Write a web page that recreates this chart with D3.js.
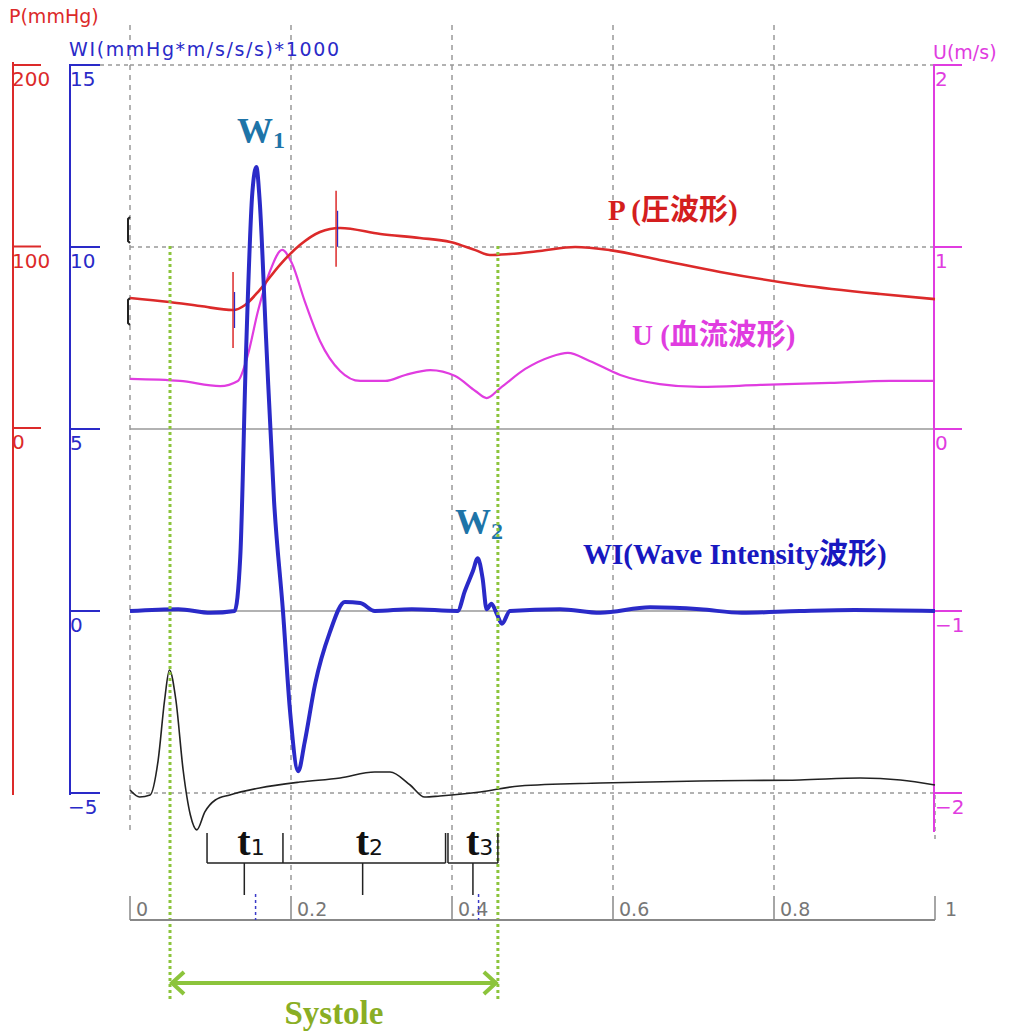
<!DOCTYPE html>
<html>
<head>
<meta charset="utf-8">
<script src="https://cdn.jsdelivr.net/npm/d3@7"></script>
<style>
  body { margin: 0; background: #fff; }
  svg { display: block; }
  .axlab { font-family: "DejaVu Sans", "Noto Sans CJK JP", sans-serif; }
  .serif { font-family: "Liberation Serif", "Noto Sans CJK JP", serif; font-weight: bold; }
</style>
</head>
<body>
<svg id="chart" width="1016" height="1036"></svg>
<script>
// time in s, values in their own units
var wiData = [[0,0],[0.06,0.05],[0.1,-0.05],[0.130,0],[0.137,1.5],[0.144,7],[0.152,11.5],[0.157,12.2],[0.161,11.3],
  [0.169,7.5],[0.179,3],[0.190,0],[0.199,-2.8],[0.209,-4.4],[0.217,-3.6],[0.230,-2],[0.248,-0.6],
  [0.267,0.25],[0.286,0.22],[0.304,0],[0.35,0.05],[0.407,0],[0.416,0.55],[0.426,1.1],[0.432,1.45],
  [0.438,0.9],[0.443,0.05],[0.449,0.2],[0.456,-0.1],[0.462,-0.35],[0.472,0],[0.534,0.05],
  [0.584,-0.05],[0.646,0.1],[0.708,0.05],[0.76,-0.05],[0.832,0],[0.9,0.03],[1,0]];

var pData = [[0,71.6],[0.049,69.4],[0.087,67.2],[0.128,65],[0.143,67.8],[0.161,76],[0.186,89.8],
  [0.211,100.8],[0.236,108],[0.261,110.2],[0.311,106.9],[0.360,104.7],[0.398,102.5],[0.429,98],
  [0.447,95.3],[0.472,95.9],[0.509,97.5],[0.553,99.7],[0.596,98],[0.658,92.6],[0.733,86],
  [0.832,78.8],[0.932,73.8],[1,71]];

var uData = [[0,0.275],[0.062,0.264],[0.112,0.236],[0.134,0.264],[0.146,0.40],[0.159,0.648],
  [0.174,0.868],[0.189,0.984],[0.201,0.912],[0.217,0.703],[0.236,0.484],[0.261,0.319],
  [0.286,0.264],[0.317,0.264],[0.342,0.297],[0.373,0.324],[0.404,0.291],[0.429,0.209],
  [0.443,0.170],[0.460,0.225],[0.491,0.330],[0.522,0.396],[0.544,0.418],[0.571,0.374],
  [0.609,0.297],[0.658,0.247],[0.708,0.231],[0.783,0.242],[0.870,0.253],[0.944,0.264],[1,0.264]];

// ECG in arbitrary units
var ecgData = [[0,0.024],[0.012,-0.033],[0.025,-0.016],[0.035,0.268],[0.043,0.756],[0.049,1.0],
  [0.057,0.756],[0.066,0.187],[0.075,-0.179],[0.083,-0.30],[0.093,-0.154],[0.106,-0.057],
  [0.124,-0.016],[0.161,0.041],[0.211,0.089],[0.261,0.122],[0.304,0.171],[0.323,0.171],
  [0.348,0.065],[0.366,-0.033],[0.385,-0.024],[0.435,0.008],[0.484,0.057],[0.584,0.081],
  [0.708,0.098],[0.832,0.106],[0.907,0.122],[0.957,0.106],[1,0.065]];

var pTicks = [200, 100, 0];
var wiTicks = [15, 10, 5, 0, -5];
var uTicks = [2, 1, 0, -1, -2];
var timeTicks = [0, 0.2, 0.4, 0.6, 0.8, 1];
var gridRows = [{u: 2, dash: true}, {u: 1, dash: true}, {u: 0, dash: false}, {u: -1, dash: false}, {u: -2, dash: true}];

var pMarks = [0.128, 0.256];      // red markers on P
var peakMarks = [0.156, 0.433];   // W1, W2 peak times
var systole = [0.0497, 0.457];
var bracketEdges = [0.0957, 0.190, 0.392, 0.395, 0.457];
var tLabels = [{t: 0.142, n: "1"}, {t: 0.289, n: "2"}, {t: 0.426, n: "3"}];

var svg = d3.select("#chart");

var x = d3.scaleLinear().domain([0, 1]).range([130, 935]);
var yWI = d3.scaleLinear().domain([-5, 15]).range([793, 65]);
var yP = d3.scaleLinear().domain([0, 200]).range([428, 65]);
var yU = d3.scaleLinear().domain([-2, 2]).range([793, 65]);
var yE = d3.scaleLinear().domain([0, 1]).range([793, 670]);

var red = "#dc2a2a", blue = "#2a2ac8", mag = "#e03ce0", green = "#8cc43c";

// grid
svg.selectAll(".hgrid").data(gridRows).enter().append("line")
  .attr("x1", 130).attr("x2", 935)
  .attr("y1", function(d) { return yU(d.u); }).attr("y2", function(d) { return yU(d.u); })
  .attr("stroke", "#999").attr("stroke-width", 1.5)
  .attr("stroke-dasharray", function(d) { return d.dash ? "4,4" : null; });
svg.append("line").attr("x1", 100).attr("x2", 130).attr("y1", yU(2)).attr("y2", yU(2))
  .attr("stroke", "#999").attr("stroke-width", 1.5).attr("stroke-dasharray", "4,4");

svg.selectAll(".vgrid").data(timeTicks.slice(0, 5)).enter().append("line")
  .attr("x1", function(d) { return x(d); }).attr("x2", function(d) { return x(d); })
  .attr("y1", 25).attr("y2", function(d) { return d == 0 ? 835 : 893; })
  .attr("stroke", "#999").attr("stroke-width", 1.5).attr("stroke-dasharray", "5,5");
svg.append("line").attr("x1", x(1)).attr("x2", x(1)).attr("y1", 795).attr("y2", 840)
  .attr("stroke", "#999").attr("stroke-width", 1.5).attr("stroke-dasharray", "4,4");

// left red axis
svg.append("line").attr("x1", 13).attr("x2", 13).attr("y1", 62).attr("y2", 795)
  .attr("stroke", red).attr("stroke-width", 2);
svg.selectAll(".pt").data(pTicks).enter().append("line")
  .attr("x1", 13).attr("x2", 41).attr("y1", function(d) { return yP(d); }).attr("y2", function(d) { return yP(d); })
  .attr("stroke", red).attr("stroke-width", 2);
svg.selectAll(".ptl").data(pTicks).enter().append("text").attr("class", "axlab")
  .attr("x", 12).attr("y", function(d) { return yP(d) + 21; })
  .attr("fill", red).attr("font-size", 20).text(function(d) { return d; });
svg.append("text").attr("class", "axlab").attr("x", 9).attr("y", 23)
  .attr("fill", red).attr("font-size", 19).text("P(mmHg)");

// blue WI axis
svg.append("line").attr("x1", 70).attr("x2", 70).attr("y1", 64).attr("y2", 795)
  .attr("stroke", blue).attr("stroke-width", 2);
svg.selectAll(".wt").data(wiTicks).enter().append("line")
  .attr("x1", 70).attr("x2", 100).attr("y1", function(d) { return yWI(d); }).attr("y2", function(d) { return yWI(d); })
  .attr("stroke", blue).attr("stroke-width", 2);
svg.selectAll(".wtl").data(wiTicks).enter().append("text").attr("class", "axlab")
  .attr("x", function(d) { return d < 0 ? 68 : 70; }).attr("y", function(d) { return yWI(d) + 21; })
  .attr("fill", blue).attr("font-size", 20).text(function(d) { return d < 0 ? "\u2212" + (-d) : d; });
svg.append("text").attr("class", "axlab").attr("x", 69).attr("y", 56)
  .attr("fill", blue).attr("font-size", 19).attr("textLength", 270).text("WI(mmHg*m/s/s/s)*1000");

// right magenta axis
svg.append("line").attr("x1", 934).attr("x2", 934).attr("y1", 64).attr("y2", 832)
  .attr("stroke", mag).attr("stroke-width", 2);
svg.selectAll(".ut").data(uTicks).enter().append("line")
  .attr("x1", 934).attr("x2", 962).attr("y1", function(d) { return yU(d); }).attr("y2", function(d) { return yU(d); })
  .attr("stroke", mag).attr("stroke-width", 2);
svg.selectAll(".utl").data(uTicks).enter().append("text").attr("class", "axlab")
  .attr("x", 935).attr("y", function(d) { return yU(d) + 21; })
  .attr("fill", mag).attr("font-size", 20).text(function(d) { return d < 0 ? "\u2212" + (-d) : d; });
svg.append("text").attr("class", "axlab").attr("x", 933).attr("y", 59)
  .attr("fill", mag).attr("font-size", 19).text("U(m/s)");

// small black marks at start
svg.append("path").attr("d", "M130,217 L128,219 L128,241 L130,243 M130,298 L128,300 L128,323 L130,325")
  .attr("fill", "none").attr("stroke", "#222").attr("stroke-width", 2);

// curves
function lineFor(yScale) {
  return d3.line().x(function(d) { return x(d[0]); }).y(function(d) { return yScale(d[1]); })
    .curve(d3.curveMonotoneX);
}

svg.append("path").datum(ecgData).attr("d", lineFor(yE))
  .attr("fill", "none").attr("stroke", "#222").attr("stroke-width", 1.6);
svg.append("path").datum(uData).attr("d", lineFor(yU))
  .attr("fill", "none").attr("stroke", mag).attr("stroke-width", 2.2);
svg.append("path").datum(pData).attr("d", lineFor(yP))
  .attr("fill", "none").attr("stroke", red).attr("stroke-width", 2.6);
svg.append("path").datum(wiData).attr("d", lineFor(yWI))
  .attr("fill", "none").attr("stroke", blue).attr("stroke-width", 4);

// P markers (red with blue core)
pMarks.forEach(function(t) {
  var pv = d3.scaleLinear().domain(pData.map(function(d) { return d[0]; })).range(pData.map(function(d) { return d[1]; }))(t);
  var yc = yP(pv);
  svg.append("line").attr("x1", x(t)).attr("x2", x(t)).attr("y1", yc - 38).attr("y2", yc + 38)
    .attr("stroke", red).attr("stroke-width", 1.5);
  svg.append("line").attr("x1", x(t) + 1.5).attr("x2", x(t) + 1.5).attr("y1", yc - 18).attr("y2", yc + 18)
    .attr("stroke", blue).attr("stroke-width", 1.2);
});

// series labels
svg.append("text").attr("class", "serif").attr("x", 608).attr("y", 220)
  .attr("fill", "#d41e1e").attr("font-size", 29).text("P (圧波形)");
svg.append("text").attr("class", "serif").attr("x", 632).attr("y", 345)
  .attr("fill", mag).attr("font-size", 29).text("U (血流波形)");
svg.append("text").attr("class", "serif").attr("x", 583).attr("y", 564)
  .attr("fill", "#1818c0").attr("font-size", 29).text("WI(Wave Intensity波形)");

function wLabel(px, py, n) {
  var g = svg.append("text").attr("class", "serif").attr("x", px).attr("y", py).attr("fill", "#1e74a8");
  g.append("tspan").attr("font-size", 36).text("W");
  g.append("tspan").attr("font-size", 24).attr("dy", 5).text(n);
}
wLabel(237, 143, "1");
wLabel(455, 534, "2");

// green systole lines
svg.selectAll(".sys").data(systole).enter().append("line")
  .attr("x1", function(d) { return x(d); }).attr("x2", function(d) { return x(d); })
  .attr("y1", 246).attr("y2", 1002)
  .attr("stroke", green).attr("stroke-width", 3).attr("stroke-dasharray", "3,3");

// time axis
var axY = 920;
svg.append("line").attr("x1", x(0)).attr("x2", x(1)).attr("y1", axY).attr("y2", axY)
  .attr("stroke", "#888").attr("stroke-width", 2);
svg.selectAll(".tt").data(timeTicks).enter().append("line")
  .attr("x1", function(d) { return x(d); }).attr("x2", function(d) { return x(d); })
  .attr("y1", axY - 24).attr("y2", axY).attr("stroke", "#888").attr("stroke-width", 1.5);
svg.selectAll(".ttl").data(timeTicks).enter().append("text").attr("class", "axlab")
  .attr("x", function(d) { return x(d) + (d == 1 ? 10 : 6); }).attr("y", axY - 4)
  .attr("fill", "#777").attr("font-size", 19).text(function(d) { return d; });

svg.selectAll(".pk").data(peakMarks).enter().append("line")
  .attr("x1", function(d) { return x(d); }).attr("x2", function(d) { return x(d); })
  .attr("y1", axY - 26).attr("y2", axY).attr("stroke", "#3a3ac8").attr("stroke-width", 1.5)
  .attr("stroke-dasharray", "3,3");

// t brackets
var bY = 863;
var bp = "";
bracketEdges.forEach(function(t) { bp += "M" + x(t) + "," + (bY - 30) + " L" + x(t) + "," + bY + " "; });
bp += "M" + x(bracketEdges[0]) + "," + bY + " L" + x(bracketEdges[2]) + "," + bY + " ";
bp += "M" + x(bracketEdges[3]) + "," + bY + " L" + x(bracketEdges[4]) + "," + bY;
tLabels.forEach(function(d) { bp += " M" + x(d.t) + "," + bY + " L" + x(d.t) + "," + (bY + 32); });
svg.append("path").attr("d", bp).attr("fill", "none").attr("stroke", "#222").attr("stroke-width", 1.5);

tLabels.forEach(function(d) {
  var g = svg.append("text").attr("x", x(d.t) - 7).attr("y", bY - 8).attr("fill", "#111");
  g.append("tspan").attr("class", "serif").attr("font-size", 40).text("t");
  g.append("tspan").attr("class", "axlab").attr("font-size", 22).text(d.n);
});

// systole arrow
var aY = 983;
svg.append("line").attr("x1", x(systole[0]) + 2).attr("x2", x(systole[1]) - 2).attr("y1", aY).attr("y2", aY)
  .attr("stroke", green).attr("stroke-width", 4);
svg.append("path")
  .attr("d", "M" + (x(systole[0]) + 14) + "," + (aY - 11) + " L" + (x(systole[0]) + 2) + "," + aY + " L" + (x(systole[0]) + 14) + "," + (aY + 11)
    + " M" + (x(systole[1]) - 14) + "," + (aY - 11) + " L" + (x(systole[1]) - 2) + "," + aY + " L" + (x(systole[1]) - 14) + "," + (aY + 11))
  .attr("fill", "none").attr("stroke", green).attr("stroke-width", 4);
svg.append("text").attr("class", "serif").attr("x", (x(systole[0]) + x(systole[1])) / 2).attr("y", 1024)
  .attr("text-anchor", "middle").attr("fill", "#8aae24").attr("font-size", 33).text("Systole");
</script>
</body>
</html>
